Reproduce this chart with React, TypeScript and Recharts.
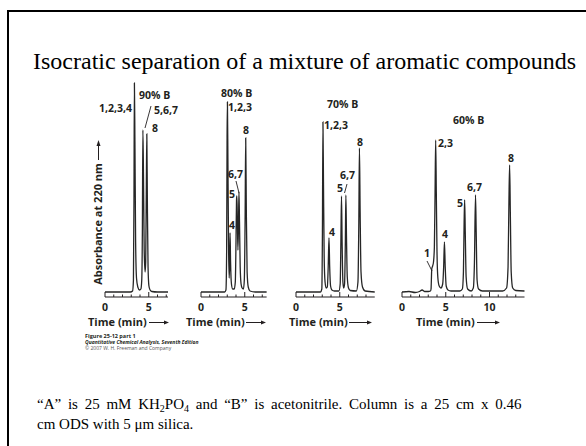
import { LineChart, Line, XAxis, YAxis } from "recharts";

// retention time (min) and detector response (arb.)
const time90 = [0, 2.9, 3.15, 3.25, 3.31, 3.36, 3.42, 3.5, 3.6, 3.75, 3.95, 4.1, 4.2, 4.27, 4.33, 4.4, 4.48, 4.58, 4.65, 4.72, 4.78, 4.84, 4.92, 5.02, 5.15, 5.35, 6.0, 7.2];
const abs90 = [0, 0, 1, 12, 90, 209, 150, 50, 14, 5, 2, 3, 12, 60, 162, 115, 42, 20, 30, 100, 158, 92, 25, 6, 2, 0.5, 0, 0];

const time80 = [0, 2.7, 2.85, 2.93, 2.98, 3.02, 3.08, 3.15, 3.22, 3.28, 3.32, 3.38, 3.48, 3.62, 3.8, 3.92, 4.0, 4.06, 4.1, 4.16, 4.22, 4.29, 4.34, 4.4, 4.48, 4.58, 4.7, 4.85, 4.95, 5.04, 5.11, 5.18, 5.27, 5.4, 5.6, 6.2, 7.5];
const abs80 = [0, 0, 2, 40, 155, 190, 125, 45, 14, 30, 59, 30, 8, 3, 3, 10, 50, 92, 96, 70, 42, 70, 100, 70, 25, 8, 4, 3, 12, 72, 154, 82, 20, 5, 1, 0, 0];

const time70 = [0, 2.8, 2.95, 3.02, 3.08, 3.14, 3.22, 3.32, 3.45, 3.58, 3.68, 3.77, 3.85, 3.95, 4.1, 4.4, 4.9, 5.05, 5.13, 5.2, 5.27, 5.36, 5.45, 5.55, 5.64, 5.7, 5.77, 5.86, 6.0, 6.2, 6.9, 7.08, 7.18, 7.25, 7.33, 7.43, 7.6, 7.9, 9.0];
const abs70 = [0, 0, 3, 60, 170, 110, 35, 10, 4, 5, 25, 54, 25, 6, 2, 1, 1, 8, 50, 96, 50, 10, 4, 8, 50, 97, 55, 15, 4, 1.5, 1, 10, 70, 144, 80, 20, 5, 1, 0];

const time60 = [0, 0.8, 1.5, 2.0, 2.3, 2.6, 3.0, 3.25, 3.32, 3.4, 3.5, 3.6, 3.7, 3.78, 3.85, 3.92, 4.0, 4.1, 4.25, 4.45, 4.65, 4.76, 4.85, 4.94, 5.05, 5.25, 5.6, 6.6, 6.9, 7.02, 7.1, 7.16, 7.23, 7.33, 7.5, 7.9, 8.15, 8.28, 8.4, 8.48, 8.58, 8.75, 9.2, 11.5, 11.95, 12.12, 12.22, 12.3, 12.38, 12.48, 12.65, 13.0, 14.0];
const abs60 = [0, 0.5, -0.5, 0.5, 2, 0.5, 0.5, 1, 3, 23, 26, 30, 45, 100, 152, 100, 40, 14, 6, 4, 8, 25, 50, 25, 6, 2, 1, 1, 3, 20, 70, 92, 60, 15, 3, 1, 4, 30, 97, 60, 12, 3, 1, 1, 4, 25, 90, 127, 80, 20, 4, 1.5, 1];

const ticks90 = [0, 1, 2, 3, 4, 5, 6, 7];
const ticks80 = [0, 1, 2, 3, 4, 5, 6, 7];
const ticks70 = [0, 1, 2, 3, 4, 5, 6, 7, 8];
const ticks60 = [0, 1, 2, 3, 4, 5, 6, 7, 8, 9, 10, 11, 12, 13];

const INK = "#231f20";
const TRACE = "#262626";
const SANS = "'Open Sans', sans-serif";
const SERIF = "'Liberation Serif', 'Times New Roman', serif";

const PX_PER_MIN = 8.75;
const PLOT_TOP = 80;
const PLOT_BOTTOM = 297;
const M = { top: 6, right: 6, bottom: 0, left: 6 };
const AXIS_H = 22;

const TimeTick = (props: any) => {
  const { x, y, payload } = props;
  const major = payload.value % 5 === 0;
  return (
    <g>
      <line x1={x} x2={x} y1={y} y2={y - (major ? 5 : 2.5)} stroke={INK} strokeWidth={1} />
      {major && (
        <text x={x} y={y + 13.5} textAnchor="middle" fontFamily={SANS} fontWeight={700} fontSize={10.5} fill={INK}>
          {payload.value}
        </text>
      )}
    </g>
  );
};

function Chromatogram({ time, abs, ticks, xMax, left }: { time: number[]; abs: number[]; ticks: number[]; xMax: number; left: number }) {
  const data = time.map((t, i) => ({ t, a: abs[i] }));
  const w = xMax * PX_PER_MIN;
  return (
    <div style={{ position: "absolute", left: left - M.left, top: PLOT_TOP - M.top }}>
      <LineChart width={w + M.left + M.right} height={M.top + (PLOT_BOTTOM - PLOT_TOP) + AXIS_H} data={data} margin={M}>
        <XAxis
          dataKey="t"
          type="number"
          domain={[0, xMax]}
          ticks={ticks}
          interval={0}
          height={AXIS_H}
          tickSize={0}
          tickMargin={0}
          tickLine={false}
          axisLine={{ stroke: INK, strokeWidth: 1.2 }}
          tick={<TimeTick />}
        />
        <YAxis hide domain={[-5, 212]} allowDataOverflow />
        <Line type="monotone" dataKey="a" stroke={TRACE} strokeWidth={1.3} dot={false} isAnimationActive={false} />
      </LineChart>
    </div>
  );
}

const Lbl = ({ x, y, children, anchor = "start" }: any) => (
  <text x={x} y={y} textAnchor={anchor} fontFamily={SANS} fontWeight={700} fontSize={10.5} fill={INK}>
    {children}
  </text>
);

const TimeTitle = ({ x, y, ax1, ax2 }: any) => (
  <g>
    <text x={x} y={y} fontFamily={SANS} fontWeight={700} fontSize={11} fill={INK}>Time (min)</text>
    <line x1={ax1} x2={ax2 - 3} y1={y - 3.5} y2={y - 3.5} stroke={INK} strokeWidth={1} />
    <path d={`M${ax2},${y - 3.5} L${ax2 - 5},${y - 5.5} L${ax2 - 5},${y - 1.5} Z`} fill={INK} />
  </g>
);

export default function App() {
  return (
    <div style={{ position: "absolute", left: 0, top: 0, width: 586, height: 446, background: "#fff", overflow: "hidden" }}>
      <div style={{ position: "absolute", left: 7, top: 10, width: 600, height: 460, borderTop: "2px solid #000", borderLeft: "2px solid #000" }} />

      <Chromatogram time={time90} abs={abs90} ticks={ticks90} xMax={7.2} left={105.3} />
      <Chromatogram time={time80} abs={abs80} ticks={ticks80} xMax={7.5} left={200.5} />
      <Chromatogram time={time70} abs={abs70} ticks={ticks70} xMax={9.0} left={295.5} />
      <Chromatogram time={time60} abs={abs60} ticks={ticks60} xMax={14.0} left={402} />

      <svg width={586} height={446} style={{ position: "absolute", left: 0, top: 0, pointerEvents: "none" }}>
        <text x={33} y={69} fontFamily={SERIF} fontSize={24} fill="#000">
          Isocratic separation of a mixture of aromatic compounds
        </text>

        {/* y axis title */}
        <text transform="translate(102,224) rotate(-90)" textAnchor="middle" fontFamily={SANS} fontWeight={700} fontSize={11} fill={INK}>
          Absorbance at 220 nm
        </text>
        <line x1={98.5} x2={98.5} y1={160} y2={145} stroke={INK} strokeWidth={1} />
        <path d="M98.5,140 L96.5,146 L100.5,146 Z" fill={INK} />

        {/* 90% B */}
        <Lbl x={139} y={99}>90% B</Lbl>
        <Lbl x={132} y={112} anchor="end">1,2,3,4</Lbl>
        <Lbl x={154} y={114}>5,6,7</Lbl>
        <line x1={151} y1={106} x2={145} y2={128} stroke={INK} strokeWidth={0.9} />
        <Lbl x={152} y={132}>8</Lbl>

        {/* 80% B */}
        <Lbl x={221} y={97}>80% B</Lbl>
        <Lbl x={228} y={111}>1,2,3</Lbl>
        <Lbl x={243} y={134}>8</Lbl>
        <Lbl x={228} y={178}>6,7</Lbl>
        <line x1={236} y1={181} x2={239} y2={193} stroke={INK} strokeWidth={0.9} />
        <Lbl x={229} y={198}>5</Lbl>
        <Lbl x={229} y={229}>4</Lbl>

        {/* 70% B */}
        <Lbl x={327} y={108}>70% B</Lbl>
        <Lbl x={324} y={129}>1,2,3</Lbl>
        <Lbl x={357} y={146}>8</Lbl>
        <Lbl x={340} y={179}>6,7</Lbl>
        <Lbl x={337} y={192}>5</Lbl>
        <line x1={347} y1={184} x2={344.5} y2={193} stroke={INK} strokeWidth={0.9} />
        <Lbl x={329} y={236}>4</Lbl>

        {/* 60% B */}
        <Lbl x={453} y={124}>60% B</Lbl>
        <Lbl x={438} y={147}>2,3</Lbl>
        <Lbl x={508} y={162}>8</Lbl>
        <Lbl x={467} y={191}>6,7</Lbl>
        <Lbl x={457} y={207}>5</Lbl>
        <Lbl x={442} y={238}>4</Lbl>
        <Lbl x={424} y={257}>1</Lbl>
        <line x1={427} y1={261} x2={432} y2={271} stroke={INK} strokeWidth={0.9} />

        <TimeTitle x={88} y={326} ax1={149} ax2={169} />
        <TimeTitle x={186} y={326} ax1={246} ax2={266} />
        <TimeTitle x={289} y={326} ax1={349} ax2={372} />
        <TimeTitle x={416} y={326} ax1={477} ax2={500} />

        <text x={85} y={338} fontFamily={SANS} fontWeight={700} fontSize={5.5} fill={INK}>Figure 25-12 part 1</text>
        <text x={85} y={344} fontFamily={SANS} fontWeight={700} fontStyle="italic" fontSize={5} fill={INK}>
          Quantitative Chemical Analysis, Seventh Edition
        </text>
        <text x={85} y={350} fontFamily={SANS} fontSize={5} fill="#555">© 2007 W. H. Freeman and Company</text>

        <text x={37} y={409} fontFamily={SERIF} fontSize={15} fill="#000" wordSpacing={3}>
          “A” is 25 mM KH<tspan dy={3} fontSize={10}>2</tspan>
          <tspan dy={-3}>PO</tspan>
          <tspan dy={3} fontSize={10}>4</tspan>
          <tspan dy={-3}> and “B” is acetonitrile. Column is a 25 cm x 0.46</tspan>
        </text>
        <text x={37} y={429} fontFamily={SERIF} fontSize={15} fill="#000">
          cm ODS with 5 μm silica.
        </text>
      </svg>
    </div>
  );
}
